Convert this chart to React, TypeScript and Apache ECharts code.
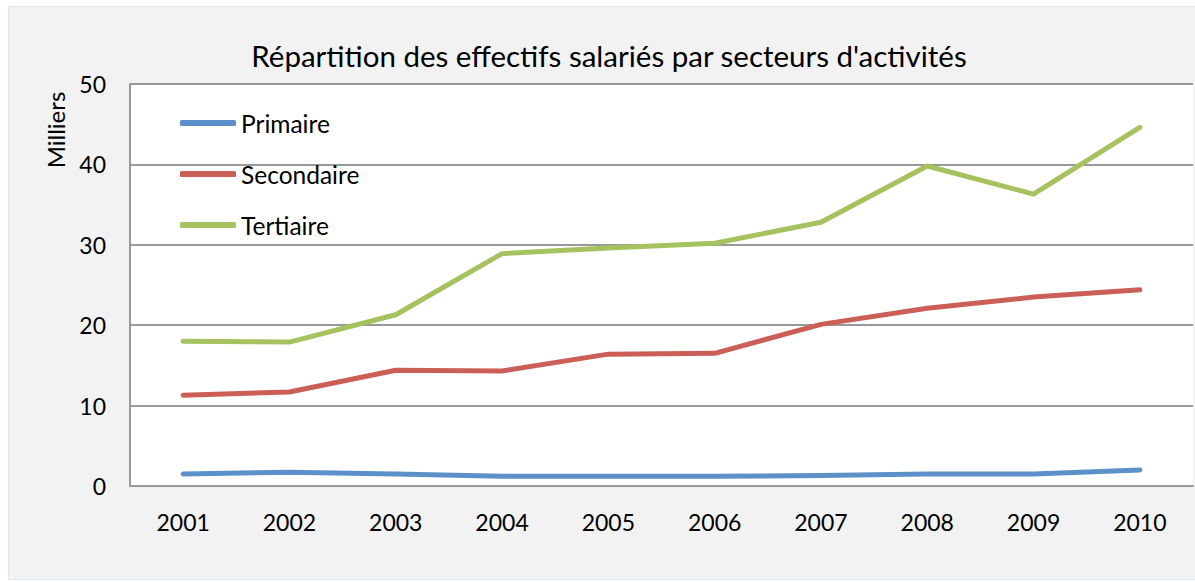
import React, { useEffect, useRef } from "react";
import * as echarts from "echarts";

const years = ["2001", "2002", "2003", "2004", "2005", "2006", "2007", "2008", "2009", "2010"];
const primaire = [1.5, 1.7, 1.5, 1.2, 1.2, 1.2, 1.3, 1.5, 1.5, 2.0];
const secondaire = [11.3, 11.7, 14.4, 14.3, 16.4, 16.5, 20.1, 22.1, 23.5, 24.4];
const tertiaire = [18.0, 17.9, 21.3, 28.9, 29.6, 30.2, 32.8, 39.8, 36.3, 44.6];
const title = "Répartition des effectifs salariés par secteurs d'activités";
const yName = "Milliers";

const FONT = "Lato";

export default function App() {
  const ref = useRef<HTMLDivElement>(null);
  useEffect(() => {
    document.body.style.margin = "0";
    const chart = echarts.init(ref.current!, null, { renderer: "svg" });
    const mk = (name: string, data: number[], color: string) => ({
      name,
      type: "line",
      data,
      symbol: "none",
      lineStyle: { color, width: 5, cap: "round", join: "round" },
      itemStyle: { color },
    });
    chart.setOption({
      animation: false,
      backgroundColor: "#ffffff",
      textStyle: { fontFamily: FONT },
      graphic: [
        {
          type: "rect",
          z: -10,
          shape: { x: 8.5, y: 6.5, width: 1195, height: 573 },
          style: { fill: "#f2f2f2", stroke: "#dfe6ee", lineWidth: 1 },
        },
        {
          type: "text",
          x: 55,
          y: 130,
          rotation: Math.PI / 2,
          style: {
            text: yName,
            fill: "#000",
            font: `24px ${FONT}`,
            align: "center",
            verticalAlign: "middle",
          },
        },
      ],
      title: {
        text: title,
        left: 604,
        top: 35,
        textAlign: "center",
        textStyle: { fontFamily: FONT, fontSize: 29.5, fontWeight: "normal", color: "#000" },
      },
      legend: {
        orient: "vertical",
        left: 175,
        top: 104,
        icon: "roundRect",
        itemWidth: 56,
        itemHeight: 6,
        itemGap: 23,
        textStyle: { fontFamily: FONT, fontSize: 24.5, color: "#000", lineHeight: 28 },
        data: ["Primaire", "Secondaire", "Tertiaire"],
      },
      grid: {
        left: 130,
        right: 2,
        top: 84,
        bottom: 96,
        show: true,
        backgroundColor: "#ffffff",
        borderWidth: 0,
      },
      xAxis: {
        type: "category",
        data: years,
        boundaryGap: true,
        axisLine: { lineStyle: { color: "#999", width: 2 } },
        axisTick: { show: false },
        axisLabel: { color: "#000", fontSize: 23, fontFamily: FONT, margin: 24 },
      },
      yAxis: {
        type: "value",
        min: 0,
        max: 50,
        interval: 10,
        axisLine: { show: true, lineStyle: { color: "#999", width: 2 } },
        axisTick: { show: false },
        axisLabel: { color: "#000", fontSize: 23, fontFamily: FONT, margin: 24 },
        splitLine: { lineStyle: { color: "#999", width: 2 } },
      },
      series: [
        mk("Primaire", primaire, "#5B91C8"),
        mk("Secondaire", secondaire, "#CB5F57"),
        mk("Tertiaire", tertiaire, "#A5C25F"),
      ],
    });
    return () => chart.dispose();
  }, []);
  return <div ref={ref} style={{ width: 1195, height: 582 }} />;
}
